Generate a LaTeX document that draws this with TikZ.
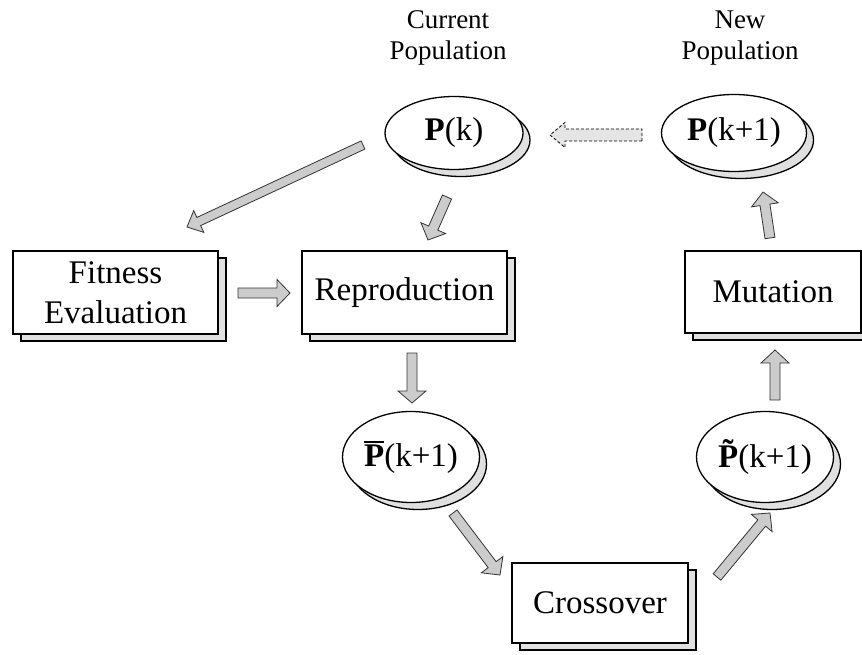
\documentclass[tikz,border=0pt]{standalone}
\usepackage{fontspec}
\setmainfont{Liberation Serif}
\usetikzlibrary{calc,shapes.geometric,shadows}
\definecolor{arrowgray}{gray}{0.8}
\definecolor{dasharrowgray}{gray}{0.9}
\definecolor{shadowgray}{gray}{0.88}
\newcommand\blockarrow[6][]{%
  \coordinate (babase) at ($(#3)!#6!(#2)$);
  \draw[barrow,#1] ($(#2)!#4!90:(#3)$) -- ($(babase)!#4!90:(#3)$) -- ($(babase)!#5!90:(#3)$) -- (#3)
     -- ($(babase)!#5!-90:(#3)$) -- ($(babase)!#4!-90:(#3)$) -- ($(#2)!#4!-90:(#3)$) -- cycle;}
\newcommand\barP{\leavevmode\rlap{\raisebox{0.72em}{\rule{0.6em}{0.06em}}}\textbf{P}}
\newcommand\tilP{\leavevmode\rlap{\hbox to 0.61em{\hss\raisebox{0.16em}{\textbf{\char"02DC}}\hss}}\textbf{P}}
\begin{document}
\begin{tikzpicture}[x=1pt,y=-1pt,
  barrow/.style={draw=black!80, fill=arrowgray, line width=0.8pt, line join=miter},
  procbox/.style={draw, fill=white, line width=1.3pt, align=center, inner sep=0pt,
     font=\fontsize{33}{40}\selectfont,
     copy shadow={shadow xshift=8pt, shadow yshift=-7pt, fill=shadowgray}},
  popell/.style={ellipse, draw, fill=white, line width=1.3pt, inner sep=0pt,
     font=\fontsize{33}{40}\selectfont,
     copy shadow={shadow xshift=7pt, shadow yshift=-7pt, fill=shadowgray}},
  lbl/.style={align=center, inner sep=0pt, font=\fontsize{27}{31}\selectfont}]
\useasboundingbox (0,0) rectangle (862,655);
% labels
\node[lbl] (curlbl) at (448,38) {Current\\Population};
\node[lbl] (newlbl) at (740,38) {New\\Population};
% populations
\node[popell, minimum width=138pt, minimum height=73pt] (pk) at (454,133) {\textbf{P}(k)};
\node[popell, minimum width=145pt, minimum height=77pt] (pk1) at (734,133) {\textbf{P}(k+1)};
\node[popell, minimum width=137pt, minimum height=91pt] (pbar) at (411,457) {\barP(k+1)};
\node[popell, minimum width=137pt, minimum height=91pt] (ptil) at (765,457) {\tilP(k+1)};
% processes
\node[procbox, minimum width=205pt, minimum height=83pt] (fit) at (115.5,292.5) {Fitness\\Evaluation};
\node[procbox, minimum width=205pt, minimum height=83pt] (rep) at (404.5,292.5) {Reproduction};
\node[procbox, minimum width=176pt, minimum height=82pt] (mut) at (773,292) {Mutation};
\node[procbox, minimum width=176pt, minimum height=80pt] (cro) at (600,603) {Crossover};
% arrow end points
\coordinate (a1t) at (363,145); \coordinate (a1h) at (187,227);
\coordinate (a2t) at (447,197); \coordinate (a2h) at (428,240);
\coordinate (a3t) at (238,293); \coordinate (a3h) at (290,293);
\coordinate (a4t) at (412,353); \coordinate (a4h) at (412,403);
\coordinate (a5t) at (453,513); \coordinate (a5h) at (500,575);
\coordinate (a6t) at (717,577); \coordinate (a6h) at (770,513);
\coordinate (a7t) at (775,400); \coordinate (a7h) at (775,350);
\coordinate (a8t) at (770,238); \coordinate (a8h) at (763,192);
\coordinate (a9t) at (642,135); \coordinate (a9h) at (550,135);
\blockarrow{a1t}{a1h}{4.5pt}{12pt}{13pt}
\blockarrow{a2t}{a2h}{5pt}{13.5pt}{13pt}
\blockarrow{a3t}{a3h}{5pt}{13.5pt}{13pt}
\blockarrow{a4t}{a4h}{5pt}{14pt}{12pt}
\blockarrow{a5t}{a5h}{5pt}{13.5pt}{13pt}
\blockarrow{a6t}{a6h}{5pt}{13.5pt}{13pt}
\blockarrow{a7t}{a7h}{5pt}{14pt}{13pt}
\blockarrow{a8t}{a8h}{5pt}{13.5pt}{13pt}
\blockarrow[densely dashed, draw=black, fill=dasharrowgray]{a9t}{a9h}{6pt}{12.5pt}{15pt}
\end{tikzpicture}
\end{document}
